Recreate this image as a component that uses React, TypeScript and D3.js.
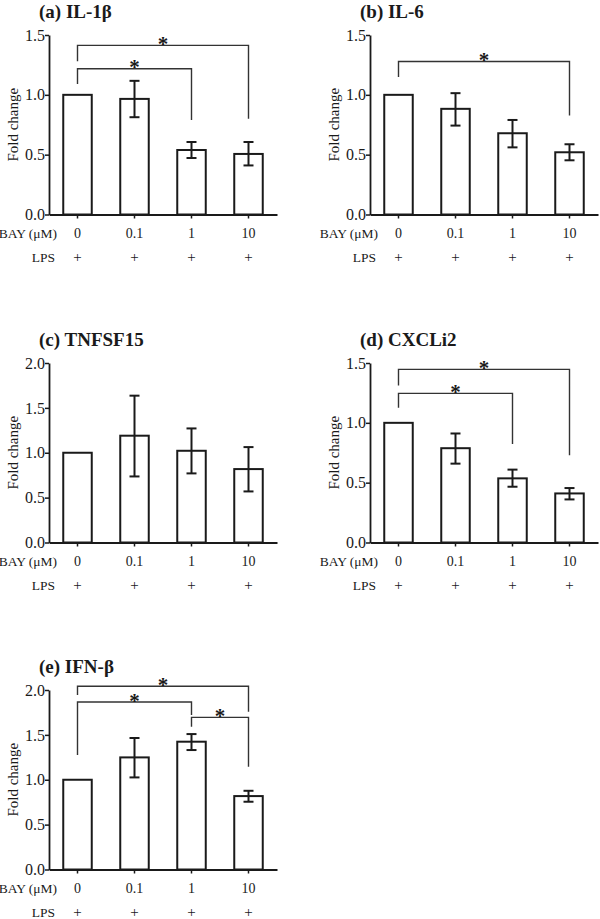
import { useEffect, useRef } from "react"
import * as d3 from "d3"

// x categories
const doses = ["0", "0.1", "1", "10"]
const lpsRow = ["+", "+", "+", "+"]

// bar heights (fold change) and error bar ends
const il1bMean = [1.0, 0.966, 0.539, 0.506]
const il1bLow = [1.0, 0.813, 0.472, 0.41]
const il1bHigh = [1.0, 1.117, 0.606, 0.606]

const il6Mean = [1.0, 0.883, 0.679, 0.52]
const il6Low = [1.0, 0.743, 0.561, 0.453]
const il6High = [1.0, 1.014, 0.79, 0.587]

const tnfMean = [1.0, 1.19, 1.022, 0.818]
const tnfLow = [1.0, 0.736, 0.77, 0.569]
const tnfHigh = [1.0, 1.636, 1.271, 1.063]

const cxclMean = [1.0, 0.788, 0.536, 0.41]
const cxclLow = [1.0, 0.659, 0.466, 0.36]
const cxclHigh = [1.0, 0.911, 0.609, 0.455]

const ifnMean = [1.0, 1.249, 1.424, 0.818]
const ifnLow = [1.0, 1.026, 1.331, 0.755]
const ifnHigh = [1.0, 1.465, 1.509, 0.877]

// significance brackets: from/to bar index, bar level, leg ends
const il1bSig = [
  { from: 0, to: 3, y: 1.413, left: 1.28, right: 0.8 },
  { from: 0, to: 2, y: 1.218, left: 1.09, right: 0.79 },
]
const il6Sig = [{ from: 0, to: 3, y: 1.279, left: 1.148, right: 0.827 }]
const tnfSig: { from: number; to: number; y: number; left: number; right: number }[] = []
const cxclSig = [
  { from: 0, to: 3, y: 1.447, left: 1.313, right: 0.729 },
  { from: 0, to: 2, y: 1.246, left: 1.126, right: 0.824 },
]
const ifnSig = [
  { from: 0, to: 3, y: 2.041, left: 1.944, right: 1.758 },
  { from: 0, to: 2, y: 1.866, left: 1.275, right: 1.721 },
  { from: 2, to: 3, y: 1.695, left: 1.591, right: 1.145 },
]

const titles = ["(a) IL-1β", "(b) IL-6", "(c) TNFSF15", "(d) CXCLi2", "(e) IFN-β"]
const yMaxes = [1.5, 1.5, 2.0, 1.5, 2.0]
const yTicks = [
  [0, 0.5, 1.0, 1.5],
  [0, 0.5, 1.0, 1.5],
  [0, 0.5, 1.0, 1.5, 2.0],
  [0, 0.5, 1.0, 1.5],
  [0, 0.5, 1.0, 1.5, 2.0],
]

const panels = [
  { mean: il1bMean, low: il1bLow, high: il1bHigh, sig: il1bSig },
  { mean: il6Mean, low: il6Low, high: il6High, sig: il6Sig },
  { mean: tnfMean, low: tnfLow, high: tnfHigh, sig: tnfSig },
  { mean: cxclMean, low: cxclLow, high: cxclHigh, sig: cxclSig },
  { mean: ifnMean, low: ifnLow, high: ifnHigh, sig: ifnSig },
]

// layout (axis origin of each panel)
const origins = [
  { x: 49, top: 35 },
  { x: 370, top: 35 },
  { x: 49, top: 363 },
  { x: 370, top: 363 },
  { x: 49, top: 690 },
]

const W = 600
const H = 919
const plotW = 228
const plotH = 179.5
const serif = "'Liberation Serif', 'Times New Roman', serif"
const ink = "#1a1a1a"

export default function App() {
  const svgRef = useRef<SVGSVGElement>(null)

  useEffect(() => {
    document.body.style.margin = "0"
    if (!svgRef.current) return
    const svg = d3.select(svgRef.current)
    svg.selectAll("*").remove()

    panels.forEach((p, i) => {
      const o = origins[i]
      const g = svg.append("g").attr("transform", `translate(${o.x},${o.top})`)

      const x = d3.scaleBand<string>().domain(doses).range([0, plotW]).paddingInner(0.5).paddingOuter(0.25)
      const y = d3.scaleLinear().domain([0, yMaxes[i]]).range([plotH, 0])
      const cx = (k: number) => (x(doses[k]) as number) + x.bandwidth() / 2

      // title
      g.append("text")
        .attr("x", -10)
        .attr("y", -17)
        .attr("font-family", serif)
        .attr("font-weight", "bold")
        .attr("font-size", 19)
        .attr("fill", ink)
        .text(titles[i])

      // bars
      g.selectAll(".bar")
        .data(p.mean)
        .enter()
        .append("rect")
        .attr("x", (_, k) => x(doses[k]) as number)
        .attr("y", (d) => y(d))
        .attr("width", x.bandwidth())
        .attr("height", (d) => plotH - y(d))
        .attr("fill", "#fff")
        .attr("stroke", ink)
        .attr("stroke-width", 2)

      // error bars
      p.mean.forEach((_, k) => {
        if (p.high[k] === p.low[k]) return
        const c = cx(k)
        const eg = g.append("g").attr("stroke", ink).attr("stroke-width", 2)
        eg.append("line").attr("x1", c).attr("x2", c).attr("y1", y(p.low[k])).attr("y2", y(p.high[k]))
        eg.append("line").attr("x1", c - 5).attr("x2", c + 5).attr("y1", y(p.low[k])).attr("y2", y(p.low[k]))
        eg.append("line").attr("x1", c - 5).attr("x2", c + 5).attr("y1", y(p.high[k])).attr("y2", y(p.high[k]))
      })

      // y axis
      const ya = g.append("g").call(
        d3
          .axisLeft(y)
          .tickValues(yTicks[i])
          .tickFormat(d3.format(".1f"))
          .tickSize(4)
          .tickSizeOuter(0),
      )
      ya.select(".domain").attr("stroke", ink).attr("stroke-width", 1.8)
      ya.selectAll(".tick line").attr("stroke", ink).attr("stroke-width", 1.5)
      ya.selectAll(".tick text")
        .attr("x", -4)
        .attr("font-family", serif)
        .attr("font-size", 16)
        .attr("fill", ink)

      // x axis
      const xa = g
        .append("g")
        .attr("transform", `translate(0,${plotH})`)
        .call(d3.axisBottom(x).tickSize(4).tickSizeOuter(0).tickFormat(() => ""))
      xa.select(".domain").attr("stroke", ink).attr("stroke-width", 1.8)
      xa.selectAll(".tick line").attr("stroke", ink).attr("stroke-width", 1.5)

      // dose and LPS rows
      doses.forEach((d, k) => {
        g.append("text")
          .attr("x", cx(k))
          .attr("y", plotH + 23.5)
          .attr("text-anchor", "middle")
          .attr("font-family", serif)
          .attr("font-size", 14)
          .attr("fill", ink)
          .text(d)
        g.append("text")
          .attr("x", cx(k))
          .attr("y", plotH + 47.5)
          .attr("text-anchor", "middle")
          .attr("font-family", serif)
          .attr("font-size", 15)
          .attr("fill", ink)
          .text(lpsRow[k])
      })
      g.append("text")
        .attr("x", 8)
        .attr("y", plotH + 23.5)
        .attr("text-anchor", "end")
        .attr("font-family", serif)
        .attr("font-size", 13.5)
        .attr("fill", ink)
        .text("BAY (μM)")
      g.append("text")
        .attr("x", 6)
        .attr("y", plotH + 47.5)
        .attr("text-anchor", "end")
        .attr("font-family", serif)
        .attr("font-size", 13.5)
        .attr("fill", ink)
        .text("LPS")

      // y label
      g.append("text")
        .attr("transform", `translate(-31,${plotH / 2}) rotate(-90)`)
        .attr("text-anchor", "middle")
        .attr("font-family", serif)
        .attr("font-size", 15)
        .attr("fill", ink)
        .text("Fold change")

      // significance brackets
      p.sig.forEach((s) => {
        const x1 = cx(s.from)
        const x2 = cx(s.to)
        g.append("path")
          .attr("d", `M${x1},${y(s.left)}V${y(s.y)}H${x2}V${y(s.right)}`)
          .attr("fill", "none")
          .attr("stroke", "#333")
          .attr("stroke-width", 1.4)
        g.append("text")
          .attr("x", (x1 + x2) / 2)
          .attr("y", y(s.y) + 5.5)
          .attr("text-anchor", "middle")
          .attr("font-family", serif)
          .attr("font-weight", "bold")
          .attr("font-size", 21)
          .attr("fill", ink)
          .text("*")
      })
    })
  }, [])

  return <svg ref={svgRef} width={W} height={H} style={{ display: "block", background: "#fff" }} />
}
